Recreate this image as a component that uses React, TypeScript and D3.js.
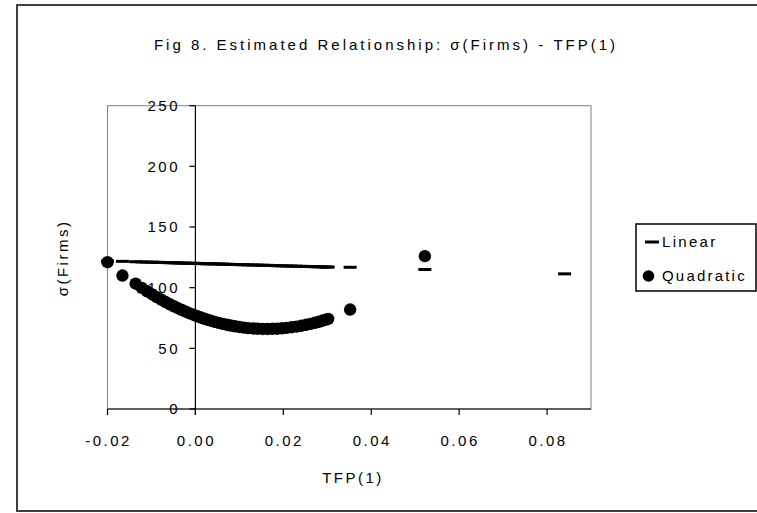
import React from 'react';
import * as d3 from 'd3';

// ==================== DATA ====================
const TFP = [
  -0.0200, -0.0166, -0.0136, -0.0122, -0.0110, -0.0098, -0.0088, -0.0078, -0.0068, -0.0058,
  -0.0049, -0.0040, -0.0031, -0.0022, -0.0013, -0.0005, 0.0003, 0.0011, 0.0019, 0.0027,
  0.0035, 0.0044, 0.0053, 0.0062, 0.0071, 0.0080, 0.0090, 0.0100, 0.0110, 0.0120,
  0.0131, 0.0142, 0.0153, 0.0164, 0.0175, 0.0186, 0.0197, 0.0208, 0.0219, 0.0230,
  0.0241, 0.0252, 0.0262, 0.0272, 0.0281, 0.0290, 0.0297, 0.0302, 0.0352, 0.0522, 0.0840,
];

const LINEAR = [
  122.0, 121.7, 121.4, 121.2, 121.1, 121.0, 120.9, 120.8, 120.7, 120.6,
  120.5, 120.4, 120.3, 120.2, 120.1, 120.1, 120.0, 119.9, 119.8, 119.7,
  119.7, 119.6, 119.5, 119.4, 119.3, 119.2, 119.1, 119.0, 118.9, 118.8,
  118.7, 118.6, 118.5, 118.4, 118.3, 118.1, 118.0, 117.9, 117.8, 117.7,
  117.6, 117.5, 117.4, 117.3, 117.2, 117.1, 117.0, 117.0, 116.8, 115.0, 111.4,
];

// the last point lies above the 250 ceiling, so it is not drawn
const QUADRATIC: (number | null)[] = [
  121.0, 110.0, 103.3, 99.8, 97.0, 94.4, 92.2, 90.2, 88.2, 86.3,
  84.7, 83.1, 81.6, 80.2, 78.8, 77.7, 76.6, 75.6, 74.6, 73.6,
  72.8, 71.8, 71.0, 70.2, 69.5, 68.8, 68.2, 67.6, 67.1, 66.7,
  66.4, 66.2, 66.0, 66.0, 66.1, 66.2, 66.5, 66.9, 67.4, 67.9,
  68.6, 69.4, 70.2, 71.1, 71.9, 72.9, 73.7, 74.2, 82.0, 126.0, null,
];

const X_TICKS = [-0.02, 0.0, 0.02, 0.04, 0.06, 0.08];
const Y_TICKS = [0, 50, 100, 150, 200, 250];
const SERIES = ['Linear', 'Quadratic'];

const FONT = "'Liberation Sans', Arial, sans-serif";

// Excel style labels: plain hyphen for negatives
const fmtX = (v: number) => (v < 0 ? '-' : '') + Math.abs(v).toFixed(2);

const App = () => {
  const W = 757;
  const H = 513;
  const plot = { left: 107.5, right: 591, top: 105.7, bottom: 409 };

  const x = d3.scaleLinear().domain([-0.02, 0.09]).range([plot.left, plot.right]);
  const y = d3.scaleLinear().domain([0, 250]).range([plot.bottom, plot.top]);
  const x0 = x(0);

  return (
    <svg width={W} height={H} style={{ position: 'absolute', left: 0, top: 0, background: '#fff' }}
      fontFamily={FONT}>
      {/* outer chart frame, right edge runs off the picture */}
      <rect x={17} y={5} width={780} height={506} fill="#fff" stroke="#404040" strokeWidth={2} />

      {/* title */}
      <text x={386} y={50} textAnchor="middle" fontSize={15} letterSpacing={3} fill="#000">
        Fig 8. Estimated Relationship: σ(Firms) - TFP(1)
      </text>

      {/* plot area border */}
      <rect x={plot.left} y={plot.top} width={plot.right - plot.left} height={plot.bottom - plot.top}
        fill="none" stroke="#808080" strokeWidth={1} />

      {/* x axis */}
      <line x1={plot.left} x2={plot.right} y1={plot.bottom} y2={plot.bottom} stroke="#000" strokeWidth={1.2} />
      {X_TICKS.map(t => (
        <g key={t}>
          <line x1={x(t)} x2={x(t)} y1={plot.bottom} y2={plot.bottom + 6} stroke="#000" strokeWidth={1.2} />
          <text x={x(t) + 1} y={446} textAnchor="middle" fontSize={15} letterSpacing={2.5}>{fmtX(t)}</text>
        </g>
      ))}
      <text x={353} y={483} textAnchor="middle" fontSize={15} letterSpacing={2.5}>TFP(1)</text>

      {/* y axis crossing at 0 */}
      <line x1={x0} x2={x0} y1={plot.top} y2={plot.bottom + 6} stroke="#000" strokeWidth={1.2} />
      {Y_TICKS.map(t => (
        <g key={t}>
          <line x1={x0 - 6} x2={x0} y1={y(t)} y2={y(t)} stroke="#000" strokeWidth={1.2} />
          <text x={180} y={y(t)} dy="0.35em" textAnchor="end" fontSize={15} letterSpacing={2.5}>{t}</text>
        </g>
      ))}
      <text transform={`translate(68, 258) rotate(-90)`} textAnchor="middle" fontSize={15} letterSpacing={2.5}>
        σ(Firms)
      </text>

      {/* Linear series: dash markers */}
      {TFP.map((t, i) => (
        <rect key={'l' + i} x={x(t) - 6.5} y={y(LINEAR[i]) - 1.5} width={13} height={3} fill="#000" />
      ))}

      {/* Quadratic series: dots */}
      {TFP.map((t, i) => QUADRATIC[i] == null ? null : (
        <circle key={'q' + i} cx={x(t)} cy={y(QUADRATIC[i] as number)} r={6.2} fill="#000" />
      ))}

      {/* legend */}
      <rect x={636} y={224} width={120} height={67} fill="#fff" stroke="#000" strokeWidth={1.5} />
      <rect x={645} y={240.5} width={14} height={3} fill="#000" />
      <text x={662} y={242} dy="0.35em" fontSize={15} letterSpacing={2.3}>{SERIES[0]}</text>
      <circle cx={648.5} cy={276} r={5.8} fill="#000" />
      <text x={662} y={276} dy="0.35em" fontSize={15} letterSpacing={2.2}>{SERIES[1]}</text>
    </svg>
  );
};

export default App;
